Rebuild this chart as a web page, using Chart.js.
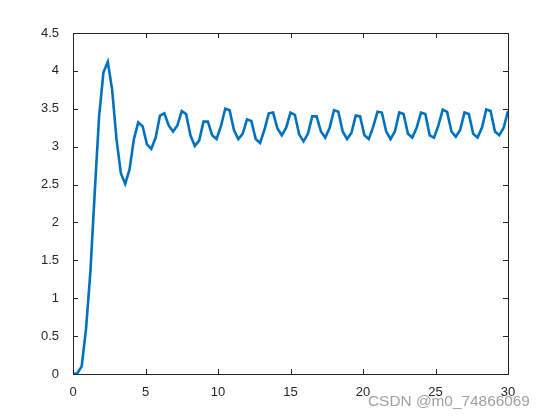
<!DOCTYPE html>
<html>
<head>
<meta charset="utf-8">
<script src="https://cdn.jsdelivr.net/npm/chart.js@4"></script>
<style>
  body { margin: 0; background: #fff; }
  #wrap { position: relative; width: 560px; height: 420px; }
  #mark {
    position: absolute; left: 368px; top: 392px;
    font: 15.4px "Liberation Sans", Arial, sans-serif; color: #a0a0a0;
  }
</style>
</head>
<body>
<div id="wrap">
  <canvas id="c" width="560" height="420"></canvas>
  <div id="mark">CSDN @m0_74866069</div>
</div>
<script>
// sample times (s)
const times = [
  0, 0.3, 0.6, 0.9, 1.2, 1.5, 1.8, 2.1, 2.4, 2.7,
  3.0, 3.3, 3.6, 3.9, 4.2, 4.5, 4.8, 5.1, 5.4, 5.7,
  6.0, 6.3, 6.6, 6.9, 7.2, 7.5, 7.8, 8.1, 8.4, 8.7,
  9.0, 9.3, 9.6, 9.9, 10.2, 10.5, 10.8, 11.1, 11.4, 11.7,
  12.0, 12.3, 12.6, 12.9, 13.2, 13.5, 13.8, 14.1, 14.4, 14.7,
  15.0, 15.3, 15.6, 15.9, 16.2, 16.5, 16.8, 17.1, 17.4, 17.7,
  18.0, 18.3, 18.6, 18.9, 19.2, 19.5, 19.8, 20.1, 20.4, 20.7,
  21.0, 21.3, 21.6, 21.9, 22.2, 22.5, 22.8, 23.1, 23.4, 23.7,
  24.0, 24.3, 24.6, 24.9, 25.2, 25.5, 25.8, 26.1, 26.4, 26.7,
  27.0, 27.3, 27.6, 27.9, 28.2, 28.5, 28.8, 29.1, 29.4, 29.7,
  30.0
];

// response values
const response = [
  0, 0.01, 0.1, 0.6, 1.35, 2.4, 3.4, 3.98, 4.12, 3.75,
  3.1, 2.65, 2.51, 2.7, 3.1, 3.32, 3.27, 3.03, 2.97, 3.12,
  3.41, 3.44, 3.28, 3.2, 3.28, 3.47, 3.43, 3.15, 3.01, 3.08,
  3.33, 3.33, 3.15, 3.1, 3.27, 3.5, 3.48, 3.22, 3.1, 3.17,
  3.36, 3.34, 3.1, 3.05, 3.22, 3.44, 3.45, 3.24, 3.15, 3.25,
  3.45, 3.42, 3.16, 3.07, 3.17, 3.4, 3.4, 3.2, 3.12, 3.25,
  3.48, 3.46, 3.2, 3.1, 3.18, 3.41, 3.4, 3.15, 3.1, 3.26,
  3.46, 3.45, 3.2, 3.1, 3.2, 3.45, 3.43, 3.17, 3.12, 3.25,
  3.45, 3.43, 3.15, 3.12, 3.28, 3.49, 3.46, 3.2, 3.13, 3.22,
  3.45, 3.43, 3.17, 3.12, 3.25, 3.49, 3.47, 3.2, 3.15, 3.25,
  3.47
];

const xTicks = [0, 5, 10, 15, 20, 25, 30];
const yTicks = [0, 0.5, 1, 1.5, 2, 2.5, 3, 3.5, 4, 4.5];

const AXIS_COLOR = '#262626';
const FONT = { family: '"Liberation Sans", Arial, sans-serif', size: 13 };

// MATLAB-like box with inward ticks on all four sides
const boxPlugin = {
  id: 'box',
  afterDatasetsDraw(chart) {
    const { ctx, chartArea: a, scales } = chart;
    const len = 5;
    ctx.save();
    ctx.strokeStyle = AXIS_COLOR;
    ctx.lineWidth = 1;
    ctx.beginPath();
    xTicks.forEach(v => {
      const px = Math.round(scales.x.getPixelForValue(v)) + 0.5;
      ctx.moveTo(px, a.bottom); ctx.lineTo(px, a.bottom - len);
      ctx.moveTo(px, a.top); ctx.lineTo(px, a.top + len);
    });
    yTicks.forEach(v => {
      const py = Math.round(scales.y.getPixelForValue(v)) + 0.5;
      ctx.moveTo(a.left, py); ctx.lineTo(a.left + len, py);
      ctx.moveTo(a.right, py); ctx.lineTo(a.right - len, py);
    });
    ctx.stroke();
    ctx.strokeRect(Math.round(a.left) + 0.5, Math.round(a.top) + 0.5,
                   Math.round(a.right - a.left), Math.round(a.bottom - a.top));
    ctx.restore();
  }
};

new Chart(document.getElementById('c'), {
  type: 'line',
  data: {
    datasets: [{
      data: times.map((t, i) => ({ x: t, y: response[i] })),
      borderColor: '#0072BD',
      borderWidth: 2.6,
      pointRadius: 0,
      tension: 0,
      fill: false,
    }]
  },
  options: {
    responsive: false,
    animation: false,
    events: [],
    layout: { padding: { top: 33, right: 52, left: 0, bottom: 0 } },
    plugins: { legend: { display: false }, tooltip: { enabled: false } },
    scales: {
      x: {
        type: 'linear', min: 0, max: 30,
        afterBuildTicks: s => { s.ticks = xTicks.map(v => ({ value: v })); },
        afterFit: s => { s.height = 46; },
        grid: { display: false },
        border: { display: false },
        ticks: { color: AXIS_COLOR, font: FONT, padding: 3, maxRotation: 0,
                 callback: v => String(v) }
      },
      y: {
        type: 'linear', min: 0, max: 4.5,
        afterBuildTicks: s => { s.ticks = yTicks.map(v => ({ value: v })); },
        afterFit: s => { s.width = 73; },
        grid: { display: false },
        border: { display: false },
        ticks: { color: AXIS_COLOR, font: FONT, padding: 6,
                 callback: v => String(v) }
      }
    }
  },
  plugins: [boxPlugin]
});
</script>
</body>
</html>
